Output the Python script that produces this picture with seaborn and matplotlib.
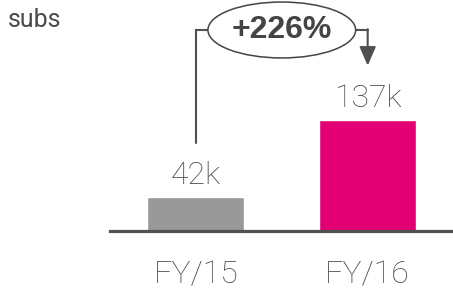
import matplotlib
matplotlib.use("Agg")
import matplotlib.pyplot as plt
import seaborn as sns
from matplotlib.patches import Ellipse

periods = ["FY/15", "FY/16"]
subs_k = [42, 137]
bar_colors = ["#999999", "#E20074"]
growth_label = "+226%"
unit_label = "subs"

TEXT_GREY = "#4a4a4a"
LINE_GREY = "#505050"

sns.set_theme(style="white")
plt.rcParams["font.family"] = ["Roboto", "DejaVu Sans"]

fig = plt.figure(figsize=(4.53, 2.94), dpi=100)
ax = fig.add_axes([110 / 453, 63 / 294, 341 / 453, 231 / 294])

sns.barplot(
    x=periods,
    y=subs_k,
    hue=periods,
    palette=bar_colors,
    width=0.565,
    saturation=1,
    legend=False,
    ax=ax,
)

ax.set_xlim(-0.5, 1.485)
ax.set_ylim(0, 285)

for container in ax.containers:
    ax.bar_label(
        container,
        labels=[f"{v:g}k" for v in container.datavalues],
        padding=5,
        fontsize=23,
        fontweight="light",
        color=TEXT_GREY,
    )

# axis styling: just a heavy baseline
for side in ["top", "left", "right"]:
    ax.spines[side].set_visible(False)
ax.spines["bottom"].set_color(LINE_GREY)
ax.spines["bottom"].set_linewidth(2.3)
ax.set_yticks([])
ax.tick_params(axis="x", length=0, pad=21, labelsize=23, labelcolor=TEXT_GREY)
for lbl in ax.get_xticklabels():
    lbl.set_fontweight("light")
ax.set_xlabel("")
ax.set_ylabel("")

# growth callout
top_y = 248
ax.plot([0, 0, 0.07], [108, top_y, top_y], color=LINE_GREY, lw=1.5,
        solid_joinstyle="miter", clip_on=False)
ax.plot([0.93, 1], [top_y, top_y], color=LINE_GREY, lw=1.5, clip_on=False)
ax.annotate(
    "",
    xy=(1, 204),
    xytext=(1, top_y + 0.9),
    arrowprops=dict(arrowstyle="-|>,head_length=1.15,head_width=0.5",
                    mutation_scale=10, color=LINE_GREY, lw=1.5,
                    shrinkA=0, shrinkB=0),
    annotation_clip=False,
)
ax.add_patch(Ellipse((0.5, top_y), 0.86, 69, facecolor="white",
                     edgecolor="#444444", lw=1.1, clip_on=False, zorder=3))
ax.text(0.5, top_y, growth_label, ha="center", va="center", fontsize=23,
        fontweight="bold", color="#444444", zorder=4,
        family=["Liberation Sans", "DejaVu Sans"])

fig.text(8 / 453, 1 - 20 / 294, unit_label, ha="left", va="center",
         fontsize=18, color=TEXT_GREY)

fig.savefig("out.png", dpi=100)
